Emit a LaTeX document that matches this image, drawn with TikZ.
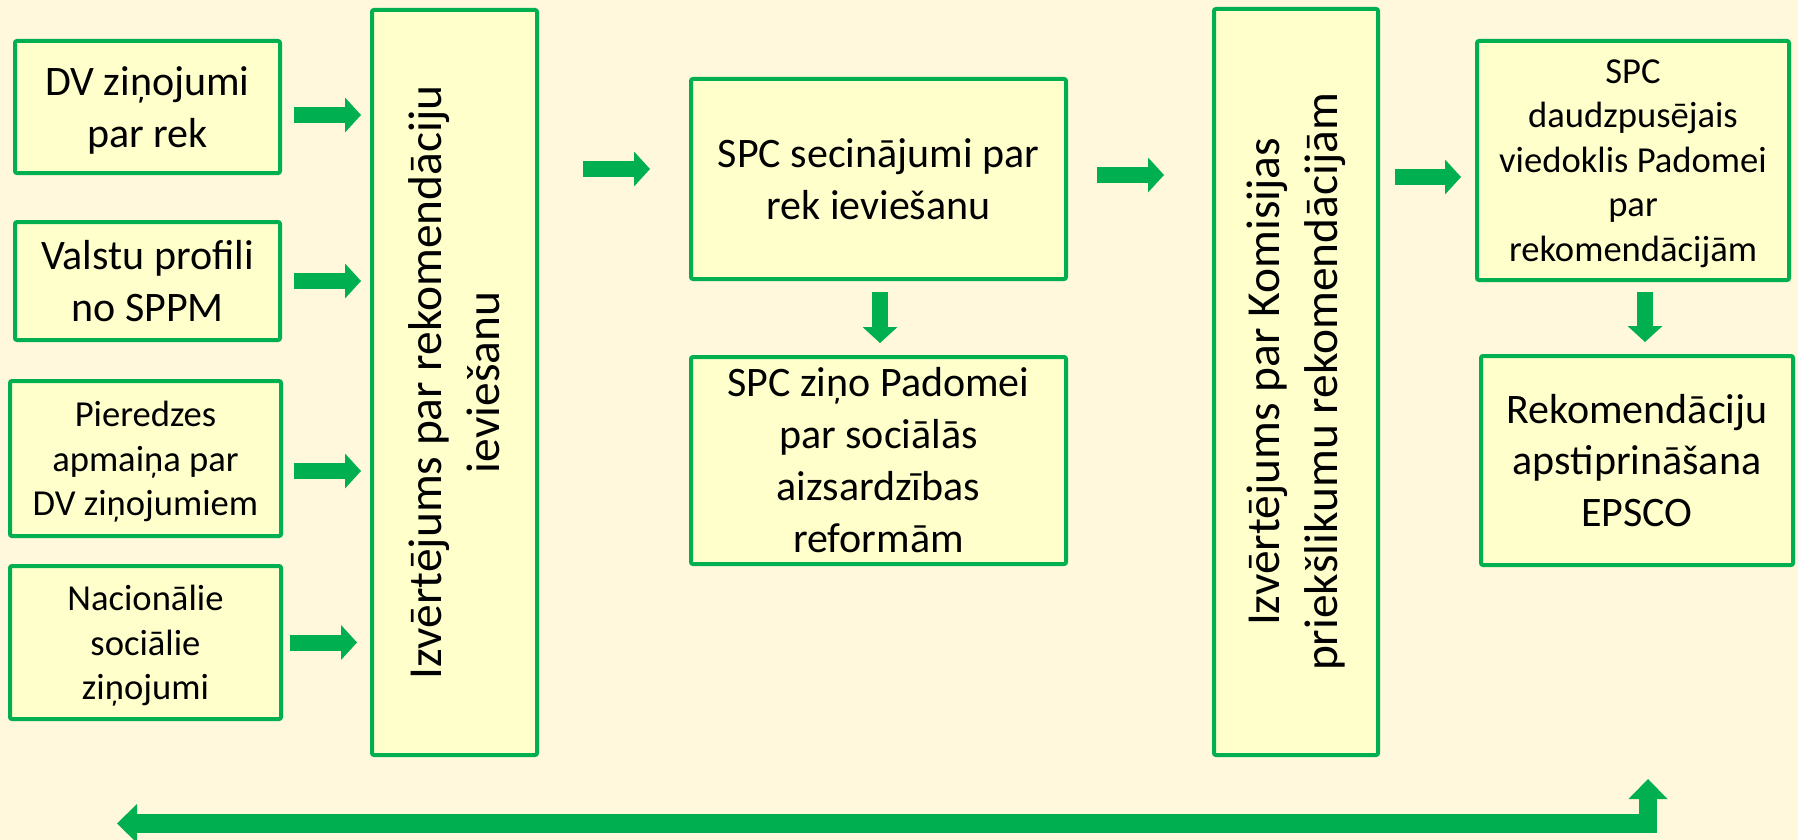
\documentclass[tikz,border=0pt]{standalone}
\usepackage{fontspec}
\setmainfont{Carlito}
\usetikzlibrary{arrows.meta,calc}
\definecolor{bgcream}{RGB}{255,248,220}
\definecolor{boxfill}{RGB}{255,255,204}
\definecolor{sgreen}{RGB}{0,176,80}
\begin{document}
\begin{tikzpicture}[x=0.5pt,y=-0.5pt,
  box/.style={draw=sgreen, line width=2pt, fill=boxfill, rounded corners=1pt,
    align=center, inner sep=0pt, text=black},
  bigtxt/.style={font=\fontsize{21}{26}\selectfont},
  smalltxt/.style={font=\fontsize{18.3}{22.3}\selectfont},
  rottxt/.style={font=\fontsize{23.7}{28.9}\selectfont},
  blockarrow/.style={draw=sgreen, line width=8pt,
    -{Triangle[length=8pt,width=17.5pt,line width=0pt]}},
  longarrow/.style={draw=sgreen, line width=9.25pt, line join=miter,
    {Triangle[length=10pt,width=19.5pt,line width=0pt]}-{Triangle[length=10pt,width=19.5pt,line width=0pt]}}
]
\fill[bgcream] (0,0) rectangle (1798,840);
\useasboundingbox (0,0) rectangle (1798,840);

% left column
\node[box,bigtxt,text depth=0pt,minimum width=132.5pt,minimum height=66pt] (dv) at (147.5,107) {DV ziņojumi\\par rek};
\node[box,bigtxt,minimum width=132.5pt,minimum height=59pt] (val) at (147.5,281) {Valstu profili\\no SPPM};
\node[box,smalltxt,text depth=0pt,minimum width=135.5pt,minimum height=77.5pt] (pie) at (145.5,458.5) {Pieredzes\\apmaiņa par\\DV ziņojumiem};
\node[box,smalltxt,text depth=0pt,minimum width=135.5pt,minimum height=76.5pt] (nac) at (145.5,642.5) {Nacionālie\\sociālie\\ziņojumi};

% tall boxes
\node[box,rottxt,rotate=90,minimum width=372.5pt,minimum height=82.5pt] (t1) at (454.5,382.5) {Izvērtējums par rekomendāciju\\ieviešanu};
\node[box,rottxt,rotate=90,minimum width=373pt,minimum height=82pt] (t2) at (1296,382) {Izvērtējums par Komisijas\\priekšlikumu rekomendācijām};

% middle
\node[box,bigtxt,minimum width=187.5pt,minimum height=100pt] (sec) at (878.5,179) {SPC secinājumi par\\rek ieviešanu};
\node[box,bigtxt,minimum width=187.5pt,minimum height=103.5pt] (zin) at (878.5,460.5) {SPC ziņo Padomei\\par sociālās\\aizsardzības\\reformām};

% right
\node[box,smalltxt,text depth=0pt,minimum width=156pt,minimum height=119.5pt] (dau) at (1633,160.5) {SPC\\daudzpusējais\\viedoklis Padomei\\par\\rekomendācijām};
\node[box,font=\fontsize{21}{25.6}\selectfont,minimum width=156pt,minimum height=104.5pt] (rek) at (1637,460.5) {Rekomendāciju\\apstiprināšana\\EPSCO};

% arrows into t1
\draw[blockarrow] ($(dv.east)+(12,8)$) -- ($(dv.east -| t1.north)+(-9,8)$);
\draw[blockarrow] ($(val.east)+(12,0)$) -- ($(val.east -| t1.north)+(-9,0)$);
\draw[blockarrow] ($(pie.east)+(11,12.5)$) -- ($(pie.east -| t1.north)+(-9,12.5)$);
\draw[blockarrow] ($(nac.east)+(7,0)$) -- ($(nac.east -| t1.north)+(-13,0)$);

% t1 -> sec
\draw[blockarrow] ($(sec.west -| t1.south)+(44,-10)$) -- ($(sec.west)+(-39,-10)$);
% sec -> t2
\draw[blockarrow] ($(sec.east)+(29,-4)$) -- ($(sec.east -| t2.north)+(-48,-4)$);
% t2 -> dau
\draw[blockarrow] ($(dau.west -| t2.south)+(15,16.5)$) -- ($(dau.west)+(-14,16.5)$);
% sec -> zin
\draw[blockarrow] ($(sec.south)+(1.5,11)$) -- ($(zin.north)+(1.5,-12)$);
% dau -> rek
\draw[blockarrow] ($(dau.south)+(12,10)$) -- ($(rek.north)+(8,-12)$);

% bottom feedback arrow
\coordinate (bl) at (117,823.5);
\coordinate (bc) at (1648,823.5);
\coordinate (bt) at (1648,779);
\draw[longarrow] (bl) -- (bc) -- (bt);
\end{tikzpicture}
\end{document}
